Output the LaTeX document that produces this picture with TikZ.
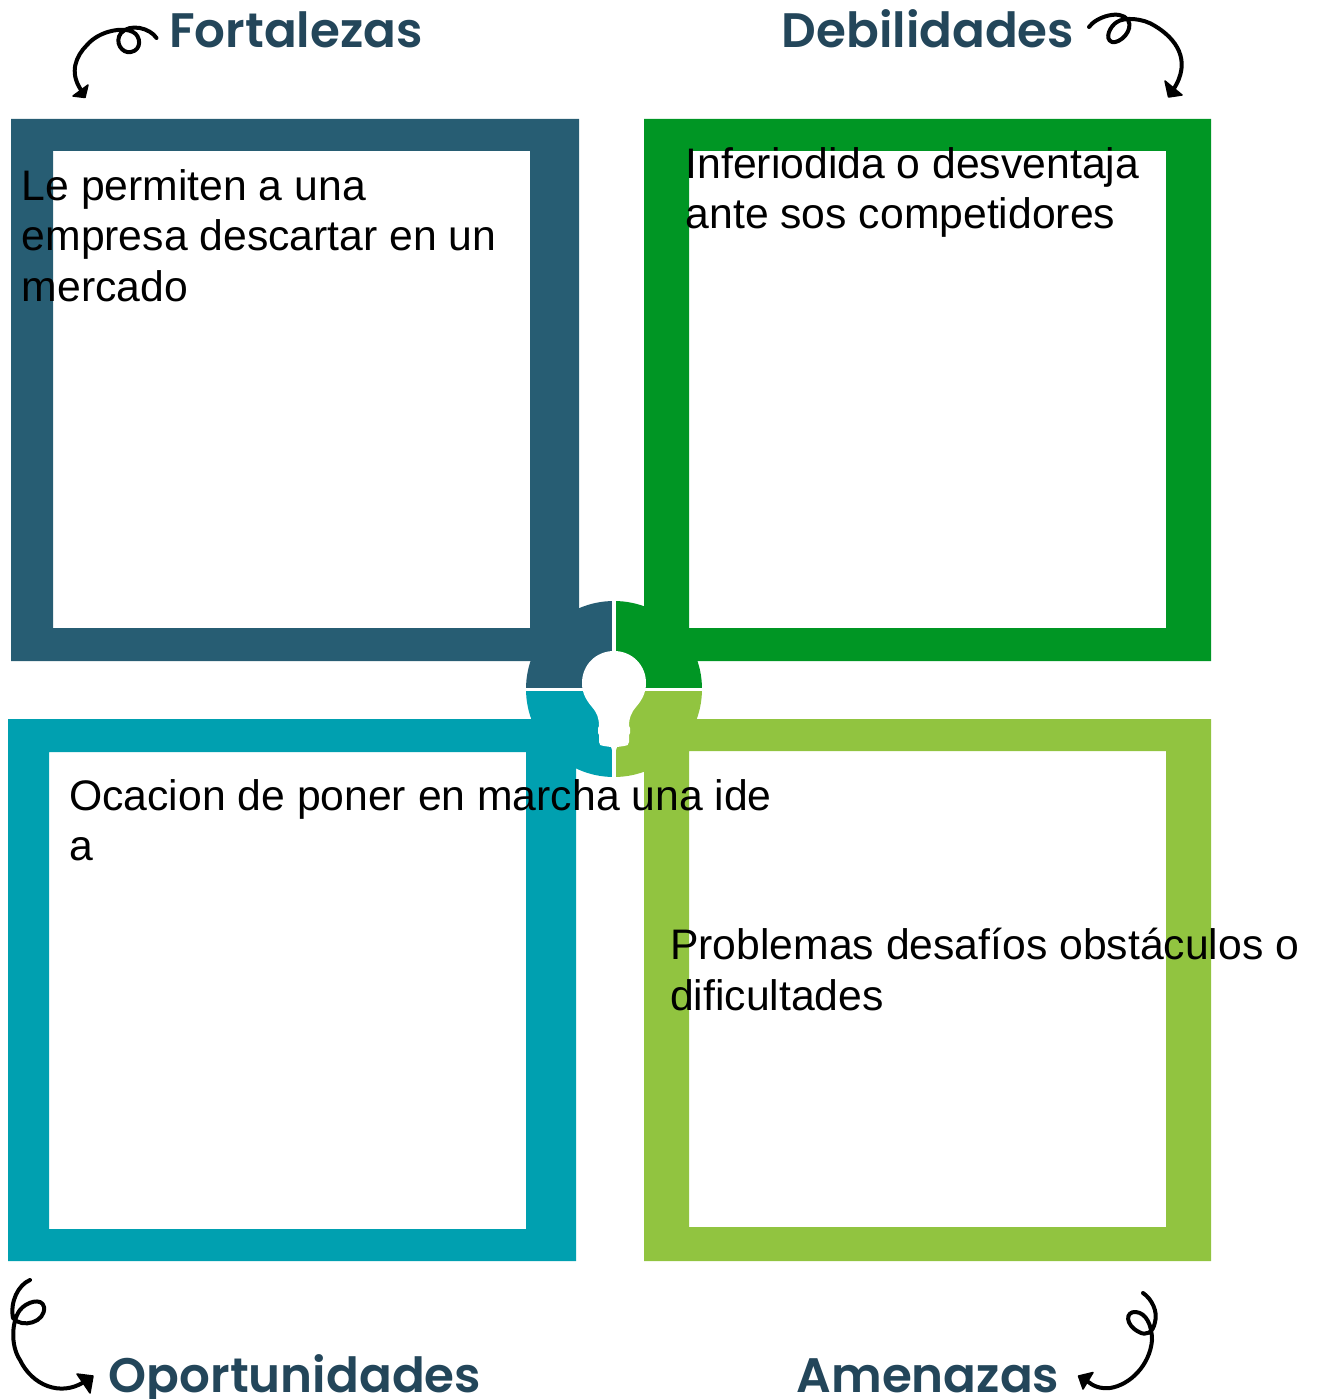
\documentclass[tikz,border=0pt]{standalone}
\usepackage{fontspec}
\setmainfont{Liberation Sans}
\newfontfamily\headfont[BoldFont={Poppins SemiBold}]{Poppins}
\definecolor{cfort}{HTML}{275D73}
\definecolor{cdeb}{HTML}{009624}
\definecolor{copo}{HTML}{00A0B0}
\definecolor{came}{HTML}{91C440}
\definecolor{chead}{HTML}{23465A}
\tikzset{
  frame/.style={fill=#1,even odd rule,draw=none},
  bodytext/.style={anchor=north west,align=left,inner sep=0pt,font=\fontsize{42.7}{50.6}\selectfont,text=black},
  headtext/.style={anchor=base,inner sep=0pt,font=\headfont\bfseries\fontsize{48.4}{50}\selectfont,text=chead},
  swirl/.style={draw=black,line width=4pt,line cap=round,line join=round},
  swirlhead/.style={fill=black,draw=black,line width=1.5pt,line join=round}
}
\begin{document}
\begin{tikzpicture}[x=1pt,y=-1pt]
\useasboundingbox (0,0) rectangle (1317,1399);
% frames
\fill[frame=cfort] (11,119) rectangle (579,661) (53,151) rectangle (530,628);
\fill[frame=cdeb] (644,119) rectangle (1211,661) (689,151) rectangle (1166,628);
\fill[frame=copo] (8,719) rectangle (576,1261) (49,752) rectangle (526,1229);
\fill[frame=came] (644,719) rectangle (1211,1261) (689,751) rectangle (1166,1227);
% central quadrants
\coordinate (c) at (614,689);
\fill[cfort] (c) -- ++(-88,0) arc[start angle=180,end angle=90,x radius=88,y radius=-88] -- cycle;
\fill[cdeb] (c) -- ++(88,0) arc[start angle=0,end angle=90,x radius=88,y radius=-88] -- cycle;
\fill[copo] (c) -- ++(-88,0) arc[start angle=180,end angle=270,x radius=88,y radius=-88] -- cycle;
\fill[came] (c) -- ++(88,0) arc[start angle=0,end angle=-90,x radius=88,y radius=-88] -- cycle;
\fill[white] (612,598) rectangle (616,780);
\fill[white] (524,688) rectangle (704,690.5);
% bulb
\fill[white] (614,651) .. controls (632,651) and (646,665) .. (646,683)
 .. controls (646,694) and (641,701) .. (636,707)
 .. controls (631,713) and (629,718) .. (629,726)
 -- (630,728) -- (630,733) -- (629,735) -- (629,742)
 .. controls (629,745) and (627,746) .. (624,746)
 -- (617,747) -- (616,750) -- (612,750) -- (611,747) -- (604,746)
 .. controls (601,746) and (599,745) .. (599,742)
 -- (599,735) -- (598,733) -- (598,728) -- (599,726)
 .. controls (599,718) and (597,713) .. (592,707)
 .. controls (587,701) and (582,694) .. (582,683)
 .. controls (582,665) and (596,651) .. (614,651) -- cycle;
% swirls
\draw[swirl] (156.5,38) .. controls (150,28) and (130,23) .. (121,33)
 .. controls (114,42) and (122,54) .. (131,52)
 .. controls (142,50) and (141,36) .. (133,32)
 .. controls (124,27) and (100,30) .. (87,45)
 .. controls (76,56) and (69,72) .. (81,90);
\fill[swirlhead] (73,96) -- (88,85) -- (85,97.5) -- cycle;
\draw[swirl] (1089,27) .. controls (1096,17) and (1120,9) .. (1128,20)
 .. controls (1134,30) and (1120,44) .. (1112,42)
 .. controls (1104,39) and (1110,26) .. (1117,22)
 .. controls (1124,17) and (1143,18) .. (1155,26)
 .. controls (1175,38) and (1193,60) .. (1173,90);
\fill[swirlhead] (1165,81) -- (1168.5,97) -- (1182,95) -- cycle;
\draw[swirl] (30,1280) .. controls (18,1285) and (10,1302) .. (13,1318)
 .. controls (22,1329) and (46,1322) .. (44,1307)
 .. controls (42,1297) and (26,1302) .. (20,1310)
 .. controls (12,1320) and (10,1345) .. (20,1360)
 .. controls (32,1385) and (60,1397) .. (84,1382);
\fill[swirlhead] (77,1374) -- (93,1376) -- (90,1393) -- cycle;
\draw[swirl] (1143,1293) .. controls (1152,1299) and (1158,1312) .. (1155,1322)
 .. controls (1153,1333) and (1146,1336) .. (1139,1332)
 .. controls (1125,1325) and (1125,1311) .. (1136,1312)
 .. controls (1146,1313) and (1152,1325) .. (1152,1340)
 .. controls (1150,1365) and (1130,1385) .. (1110,1388)
 .. controls (1100,1389) and (1093,1386) .. (1087,1381);
\fill[swirlhead] (1078.5,1376) -- (1093,1372.5) -- (1083,1389) -- cycle;
% body text
\node[bodytext] (t1) at (21.5,169) {Le permiten a una\\empresa descartar en un\\mercado};
\node[bodytext] (t2) at (685.5,147) {Inferiodida o desventaja\\ante sos competidores};
\node[bodytext] (t3) at (69,779) {Ocacion de poner en marcha una ide\\a};
\node[bodytext] (t4) at (670,928) {Problemas desafíos obstáculos o\\dificultades};
% headings
\node[headtext] (h1) at (296,48) {Fortalezas};
\node[headtext] (h2) at (928,48) {Debilidades};
\node[headtext] (h3) at (295,1392) {Oportunidades};
\node[headtext] (h4) at (928,1392) {Amenazas};
\end{tikzpicture}
\end{document}
